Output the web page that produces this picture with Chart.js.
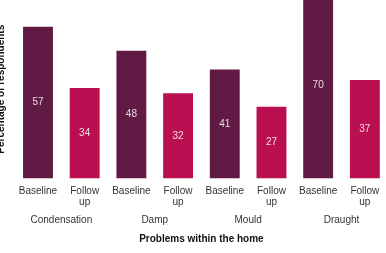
<!DOCTYPE html>
<html>
<head>
<meta charset="utf-8">
<script src="https://cdn.jsdelivr.net/npm/chart.js@4"></script>
<style>
  html, body { margin: 0; padding: 0; background: #fff; overflow: hidden; }
</style>
</head>
<body>
<canvas id="chart" width="390" height="253"></canvas>
<script>
// data
const problems = ['Condensation', 'Damp', 'Mould', 'Draught'];
const periods = ['Baseline', ['Follow', 'up']];
const baseline = [57, 48, 41, 70];
const followUp = [34, 32, 27, 37];

const baseColor = '#611a43';
const followColor = '#ba0f50';
const font = 'Liberation Sans, Arial, sans-serif';

const labels = [];
const values = [];
const colors = [];
problems.forEach((p, i) => {
  labels.push(periods[0], periods[1]);
  values.push(baseline[i], followUp[i]);
  colors.push(baseColor, followColor);
});

// white value in the middle of each bar
const barValues = {
  id: 'barValues',
  afterDatasetsDraw(chart) {
    const ctx = chart.ctx;
    const meta = chart.getDatasetMeta(0);
    ctx.save();
    ctx.font = '10px ' + font;
    ctx.fillStyle = 'rgba(255,255,255,0.85)';
    ctx.textAlign = 'center';
    ctx.textBaseline = 'middle';
    meta.data.forEach((bar, i) => {
      ctx.fillText(values[i], bar.x, (bar.y + bar.base) / 2);
    });
    ctx.restore();
  }
};

new Chart(document.getElementById('chart'), {
  type: 'bar',
  data: {
    labels: labels,
    datasets: [{
      data: values,
      backgroundColor: colors,
      borderWidth: 0,
      barPercentage: 0.64,
      categoryPercentage: 1,
    }],
  },
  options: {
    responsive: false,
    animation: false,
    layout: { padding: { left: 0, right: 1.8, top: 0, bottom: 0 } },
    plugins: { legend: { display: false }, tooltip: { enabled: false } },
    scales: {
      y: {
        min: 0,
        max: 67.1,
        ticks: { display: false },
        grid: { display: false, drawTicks: false },
        border: { display: false },
        title: {
          display: true,
          text: 'Percentage of respondents',
          color: '#111',
          font: { family: font, size: 10, weight: 'bold', lineHeight: 0.2 },
          padding: { top: 0, bottom: 12.64 },
        },
      },
      x: {
        weight: 0,
        offset: true,
        grid: { display: false, drawTicks: false },
        border: { display: false },
        ticks: {
          padding: 7,
          color: '#333',
          maxRotation: 0,
          autoSkip: false,
          font: { family: font, size: 10, lineHeight: 1.1 },
        },
      },
      groups: {
        type: 'category',
        position: 'bottom',
        weight: 1,
        labels: problems,
        offset: true,
        grid: { display: false, drawTicks: false },
        border: { display: false },
        ticks: {
          padding: -0.5,
          color: '#333',
          maxRotation: 0,
          autoSkip: false,
          font: { family: font, size: 10, lineHeight: 1.2 },
        },
        title: {
          display: true,
          text: 'Problems within the home',
          color: '#111',
          font: { family: font, size: 10, weight: 'bold', lineHeight: 1.2 },
          padding: { top: 7.5, bottom: 8 },
        },
      },
    },
  },
  plugins: [barValues],
});
</script>
</body>
</html>
